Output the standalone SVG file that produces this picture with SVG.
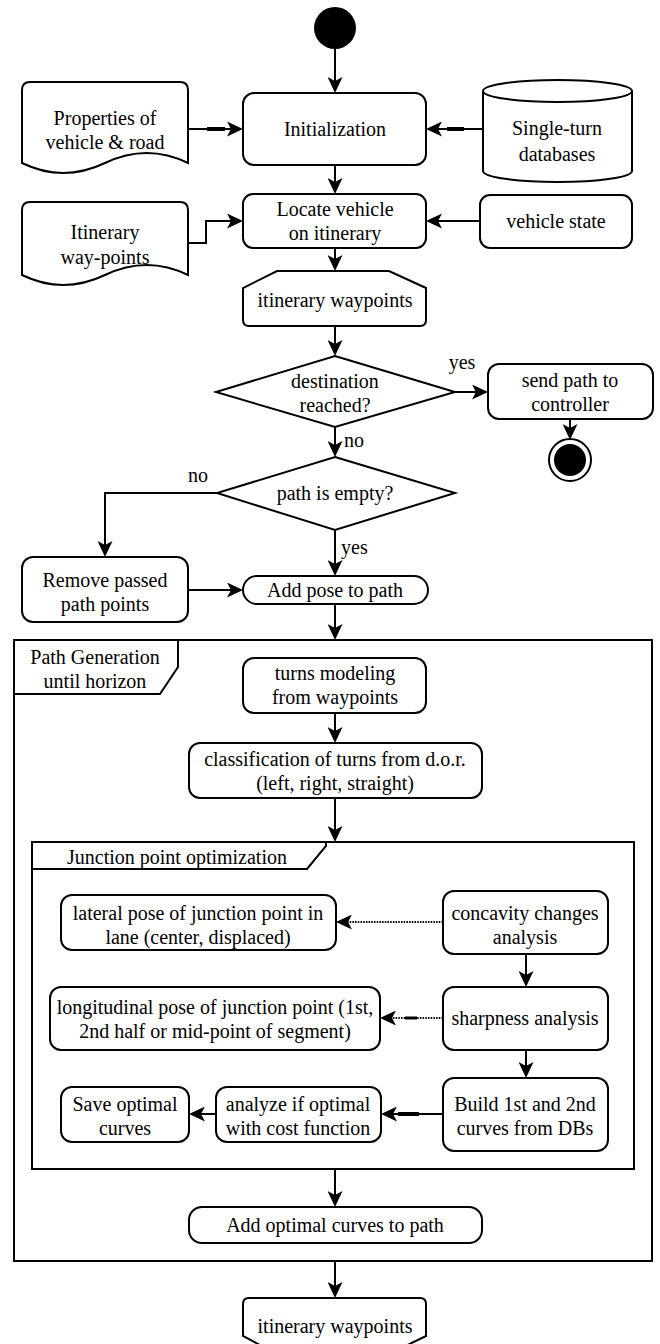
<svg xmlns="http://www.w3.org/2000/svg" width="660" height="1344" viewBox="0 0 660 1344" font-family="'Liberation Serif', 'DejaVu Serif', serif" font-size="20">
<style>
.n{fill:#fff;stroke:#000;stroke-width:2}
.f{fill:none;stroke:#000;stroke-width:2}
text{font-family:'Liberation Serif','DejaVu Serif',serif;font-size:20px;fill:#000}
.t{text-anchor:middle}
.c{fill:none;stroke:#000;stroke-width:2}
.d{fill:none;stroke:#000;stroke-width:2;stroke-dasharray:1.5 1.2}
.k{fill:none;stroke:#000;stroke-width:4}
</style>
<defs>
<marker id="ar" viewBox="0 0 16 15" refX="12" refY="7.5" markerWidth="16" markerHeight="15" markerUnits="userSpaceOnUse" orient="auto"><path d="M0,0 L16,7.5 L0,15 L4,7.5 Z" fill="#000"/></marker>
</defs>
<rect width="660" height="1344" fill="#fff"/>

<g id="frame-pathgen">
<rect class="f" x="14" y="640" width="638" height="621"/>
<path class="f" d="M14,694 H160 L178,667 V640"/>
<text class="t" x="95" y="664" font-family="Liberation Serif">Path Generation</text>
<text class="t" x="95" y="688" font-family="Liberation Serif">until horizon</text>
</g>
<g id="frame-junction">
<rect class="f" x="32" y="842" width="602" height="327"/>
<path class="f" d="M32,869 H307 L326,846 V842"/>
<text class="t" x="177" y="864" font-family="Liberation Serif">Junction point optimization</text>
</g>

<g id="start"><circle cx="335" cy="28" r="21" fill="#000"/></g>
<g id="properties">
<path class="n" d="M22,163 V90 Q22,82 30,82 H180 Q188,82 188,90 V163 Q147,143 105,163 Q63,183 22,163 Z"/>
<text class="t" x="105" y="125" font-family="Liberation Serif">Properties of</text>
<text class="t" x="105" y="149" font-family="Liberation Serif">vehicle &amp; road</text>
</g>
<g id="init">
<rect class="n" x="243" y="93" width="183" height="72" rx="11"/>
<text class="t" x="335" y="136" font-family="Liberation Serif">Initialization</text>
</g>
<g id="databases">
<path class="n" d="M483,91 A74.5,11 0 0 1 632,91 V171 A74.5,11 0 0 1 483,171 Z"/>
<path class="f" d="M483,91 A74.5,11 0 0 0 632,91"/>
<text class="t" x="557" y="135" font-family="Liberation Serif">Single-turn</text>
<text class="t" x="557" y="161" font-family="Liberation Serif">databases</text>
</g>
<g id="itinerary-doc">
<path class="n" d="M22,275 V210 Q22,202 30,202 H180 Q188,202 188,210 V275 Q147,255 105,275 Q63,295 22,275 Z"/>
<text class="t" x="105" y="239" font-family="Liberation Serif">Itinerary</text>
<text class="t" x="105" y="264" font-family="Liberation Serif">way-points</text>
</g>
<g id="locate">
<rect class="n" x="243" y="194" width="183" height="54" rx="10"/>
<text class="t" x="335" y="216" font-family="Liberation Serif">Locate vehicle</text>
<text class="t" x="335" y="240" font-family="Liberation Serif">on itinerary</text>
</g>
<g id="vehicle-state">
<rect class="n" x="480" y="195" width="152" height="53" rx="10"/>
<text class="t" x="556" y="228" font-family="Liberation Serif">vehicle state</text>
</g>
<g id="waypoints-top">
<path class="n" d="M243,320 V288 L277,271 H389 L426,288 V320 Q426,326 420,326 H249 Q243,326 243,320 Z"/>
<text class="t" x="335" y="307" font-family="Liberation Serif">itinerary waypoints</text>
</g>
<g id="destination">
<polygon class="n" points="335,356 455,392 335,427 216,392"/>
<text class="t" x="335" y="388" font-family="Liberation Serif">destination</text>
<text class="t" x="335" y="412" font-family="Liberation Serif">reached?</text>
</g>
<g id="send">
<rect class="n" x="488" y="364" width="165" height="55" rx="11"/>
<text class="t" x="570" y="387" font-family="Liberation Serif">send path to</text>
<text class="t" x="570" y="411" font-family="Liberation Serif">controller</text>
</g>
<g id="end">
<circle cx="570" cy="460" r="21" fill="#fff" stroke="#000" stroke-width="2"/>
<circle cx="570" cy="460" r="16" fill="#000"/>
</g>
<g id="empty">
<polygon class="n" points="335,457 455,493 335,530 217,493"/>
<text class="t" x="335" y="500" font-family="Liberation Serif">path is empty?</text>
</g>
<g id="remove">
<rect class="n" x="22" y="557" width="166" height="65" rx="11"/>
<text class="t" x="105" y="587" font-family="Liberation Serif">Remove passed</text>
<text class="t" x="105" y="611" font-family="Liberation Serif">path points</text>
</g>
<g id="addpose">
<rect class="n" x="243" y="576" width="185" height="28" rx="14"/>
<text class="t" x="335" y="597" font-family="Liberation Serif">Add pose to path</text>
</g>
<g id="turns">
<rect class="n" x="243" y="658" width="183" height="55" rx="11"/>
<text class="t" x="335" y="680" font-family="Liberation Serif">turns modeling</text>
<text class="t" x="335" y="704" font-family="Liberation Serif">from waypoints</text>
</g>
<g id="classification">
<rect class="n" x="189" y="743" width="293" height="55" rx="11"/>
<text class="t" x="335" y="766" font-family="Liberation Serif">classification of turns from d.o.r.</text>
<text class="t" x="335" y="790" font-family="Liberation Serif">(left, right, straight)</text>
</g>
<g id="lateral">
<rect class="n" x="61" y="895" width="275" height="55" rx="11"/>
<text class="t" x="198" y="920" font-family="Liberation Serif">lateral pose of junction point in</text>
<text class="t" x="198" y="944" font-family="Liberation Serif">lane (center, displaced)</text>
</g>
<g id="concavity">
<rect class="n" x="443" y="891" width="165" height="63" rx="11"/>
<text class="t" x="525" y="920" font-family="Liberation Serif">concavity changes</text>
<text class="t" x="525" y="944" font-family="Liberation Serif">analysis</text>
</g>
<g id="longitudinal">
<rect class="n" x="50" y="987" width="330" height="63" rx="11"/>
<text class="t" x="215" y="1014" font-family="Liberation Serif">longitudinal pose of junction point (1st,</text>
<text class="t" x="215" y="1038" font-family="Liberation Serif">2nd half or mid-point of segment)</text>
</g>
<g id="sharpness">
<rect class="n" x="443" y="987" width="165" height="63" rx="11"/>
<text class="t" x="525" y="1025" font-family="Liberation Serif">sharpness analysis</text>
</g>
<g id="build">
<rect class="n" x="443" y="1078" width="165" height="73" rx="11"/>
<text class="t" x="525" y="1111" font-family="Liberation Serif">Build 1st and 2nd</text>
<text class="t" x="525" y="1135" font-family="Liberation Serif">curves from DBs</text>
</g>
<g id="analyze">
<rect class="n" x="216" y="1087" width="165" height="55" rx="11"/>
<text class="t" x="298" y="1111" font-family="Liberation Serif">analyze if optimal</text>
<text class="t" x="298" y="1135" font-family="Liberation Serif">with cost function</text>
</g>
<g id="save">
<rect class="n" x="61" y="1087" width="128" height="55" rx="11"/>
<text class="t" x="125" y="1111" font-family="Liberation Serif">Save optimal</text>
<text class="t" x="125" y="1135" font-family="Liberation Serif">curves</text>
</g>
<g id="addcurves">
<rect class="n" x="189" y="1207" width="293" height="36" rx="13"/>
<text class="t" x="335" y="1232" font-family="Liberation Serif">Add optimal curves to path</text>
</g>
<g id="waypoints-bottom">
<path class="n" d="M243,1336 V1304 Q243,1298 249,1298 H420 Q426,1298 426,1304 V1336 L389,1354 H277 Z"/>
<text class="t" x="335" y="1333" font-family="Liberation Serif">itinerary waypoints</text>
</g>

<g id="connectors">
<path class="c" marker-end="url(#ar)" d="M335,49 V89"/>
<path class="c" marker-end="url(#ar)" d="M188,129 H239"/>
<path class="k" d="M207,129 H225"/>
<path class="c" marker-end="url(#ar)" d="M483,129 H430"/>
<path class="k" d="M447,129 H464"/>
<path class="c" marker-end="url(#ar)" d="M335,165 V190"/>
<path class="c" marker-end="url(#ar)" d="M188,243 H206 V221 H239"/>
<path class="c" marker-end="url(#ar)" d="M480,221 H430"/>
<path class="c" marker-end="url(#ar)" d="M335,248 V267"/>
<path class="c" marker-end="url(#ar)" d="M335,326 V352"/>
<path class="c" marker-end="url(#ar)" d="M455,392 H484"/>
<path class="c" marker-end="url(#ar)" d="M570,419 V436"/>
<path class="c" marker-end="url(#ar)" d="M335,427 V453"/>
<path class="c" marker-end="url(#ar)" d="M217,493 H105 V553"/>
<path class="c" marker-end="url(#ar)" d="M335,530 V572"/>
<path class="c" marker-end="url(#ar)" d="M188,590 H239"/>
<path class="c" marker-end="url(#ar)" d="M335,604 V636"/>
<path class="c" marker-end="url(#ar)" d="M335,713 V739"/>
<path class="c" marker-end="url(#ar)" d="M335,798 V838"/>
<path class="d" marker-end="url(#ar)" d="M443,922 H340"/>
<path class="c" marker-end="url(#ar)" d="M526,954 V983"/>
<path class="d" marker-end="url(#ar)" d="M443,1018 H384"/>
<path class="k" style="stroke-width:3" d="M405,1018 H417"/>
<path class="c" marker-end="url(#ar)" d="M526,1050 V1074"/>
<path class="c" marker-end="url(#ar)" d="M443,1114 H385"/>
<path class="k" d="M398,1114 H419"/>
<path class="c" marker-end="url(#ar)" d="M216,1114 H193"/>
<path class="c" marker-end="url(#ar)" d="M335,1169 V1203"/>
<path class="c" marker-end="url(#ar)" d="M335,1261 V1294"/>
<text class="t" x="462" y="369" font-family="Liberation Serif">yes</text>
<text x="344" y="447" font-family="Liberation Serif">no</text>
<text class="t" x="198" y="482" font-family="Liberation Serif">no</text>
<text x="341" y="554" font-family="Liberation Serif">yes</text>
</g>
</svg>
